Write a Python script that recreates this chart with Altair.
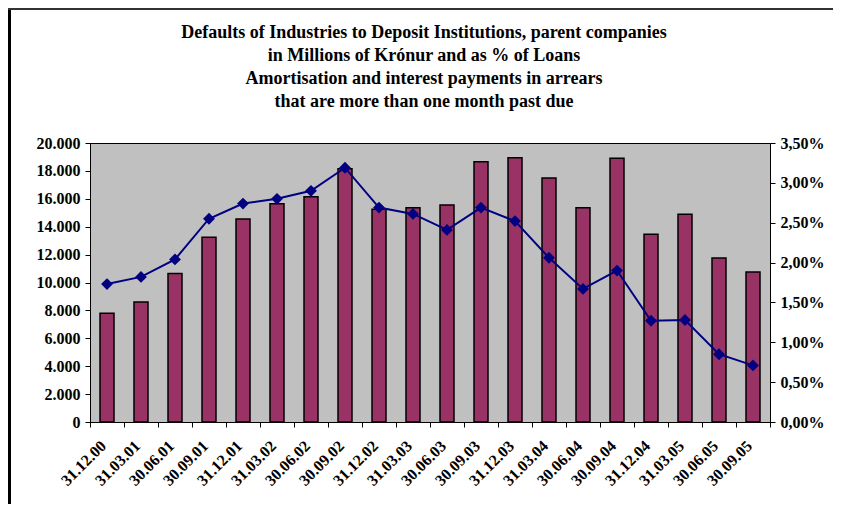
import altair as alt
import pandas as pd

dates = ["31.12.00", "31.03.01", "30.06.01", "30.09.01", "31.12.01", "31.03.02",
         "30.06.02", "30.09.02", "31.12.02", "31.03.03", "30.06.03", "30.09.03",
         "31.12.03", "31.03.04", "30.06.04", "30.09.04", "31.12.04", "31.03.05",
         "30.06.05", "30.09.05"]
amounts = [7800, 8600, 10650, 13250, 14550, 15650, 16150, 18150, 15250, 15350,
           15550, 18650, 18950, 17500, 15350, 18900, 13450, 14900, 11750, 10750]
pct = [1.73, 1.82, 2.04, 2.55, 2.74, 2.80, 2.90, 3.19, 2.69, 2.61,
       2.41, 2.69, 2.52, 2.06, 1.67, 1.90, 1.27, 1.28, 0.85, 0.71]

title_lines = ["Defaults of Industries to Deposit Institutions, parent companies",
               "in Millions of Krónur and as % of Loans",
               "Amortisation and interest payments in arrears",
               "that are more than one month past due"]

df = pd.DataFrame({"date": dates, "amount": amounts, "pct": [p / 100 for p in pct]})

FONT = "Liberation Serif"

x = alt.X("date:N", sort=dates, title=None,
          scale=alt.Scale(paddingInner=0, paddingOuter=0),
          axis=alt.Axis(labelAngle=-45, labelAlign="right", labelBaseline="middle",
                        tickBand="extent", tickSize=5, labelPadding=16,
                        labelOffset=-4, labelFontSize=16))

bars = alt.Chart(df).mark_bar(size=14, color="#993366", stroke="#000000",
                              strokeWidth=1.5).encode(
    x=x,
    y=alt.Y("amount:Q", title=None,
            scale=alt.Scale(domain=[0, 20000], nice=False),
            axis=alt.Axis(values=list(range(0, 20001, 2000)), tickSize=5,
                          labelPadding=5, grid=False,
                          labelExpr="replace(format(datum.value, ','), ',', '.')")),
)

line = alt.Chart(df).mark_line(color="#000080", strokeWidth=2,
                               point=alt.OverlayMarkDef(shape="diamond", size=140,
                                                        filled=True, color="#000080")).encode(
    x=x,
    y=alt.Y("pct:Q", title=None,
            scale=alt.Scale(domain=[0, 0.035], nice=False),
            axis=alt.Axis(orient="right", values=[i * 0.005 for i in range(8)],
                          tickSize=5, labelPadding=5, grid=False,
                          labelExpr="replace(format(datum.value, '.2%'), '.', ',')")),
)

frame_left = alt.Chart(df).mark_rule(color="#000000", strokeWidth=1.5).encode(
    x=alt.value(-80.5), y=alt.value(-135), y2=alt.value(370))
frame_top = alt.Chart(df).mark_rule(color="#333333", strokeWidth=2).encode(
    x=alt.value(-82), x2=alt.value(760), y=alt.value(-134))

chart = alt.layer(bars, line, frame_left, frame_top).resolve_scale(
    y="independent"
).properties(
    width=680,
    height=279,
    background="#FFFFFF",
    autosize=alt.AutoSizeParams(type="none"),
    padding={"left": 82, "top": 135, "right": 63, "bottom": 82},
    title=alt.TitleParams(text=title_lines, font=FONT, fontSize=18,
                          fontWeight="bold", color="#000000", lineHeight=23,
                          anchor="middle", frame="group", dx=-6, offset=0, dy=104),
).configure_view(
    fill="#C0C0C0", stroke="#000000", strokeWidth=1
).configure_axis(
    labelFont=FONT, labelFontWeight="bold", labelFontSize=16, labelColor="#000000",
    domainColor="#000000", tickColor="#000000", domainWidth=1, tickWidth=1
)

chart.save("out.html", embed_options={"renderer": "svg", "actions": False})
